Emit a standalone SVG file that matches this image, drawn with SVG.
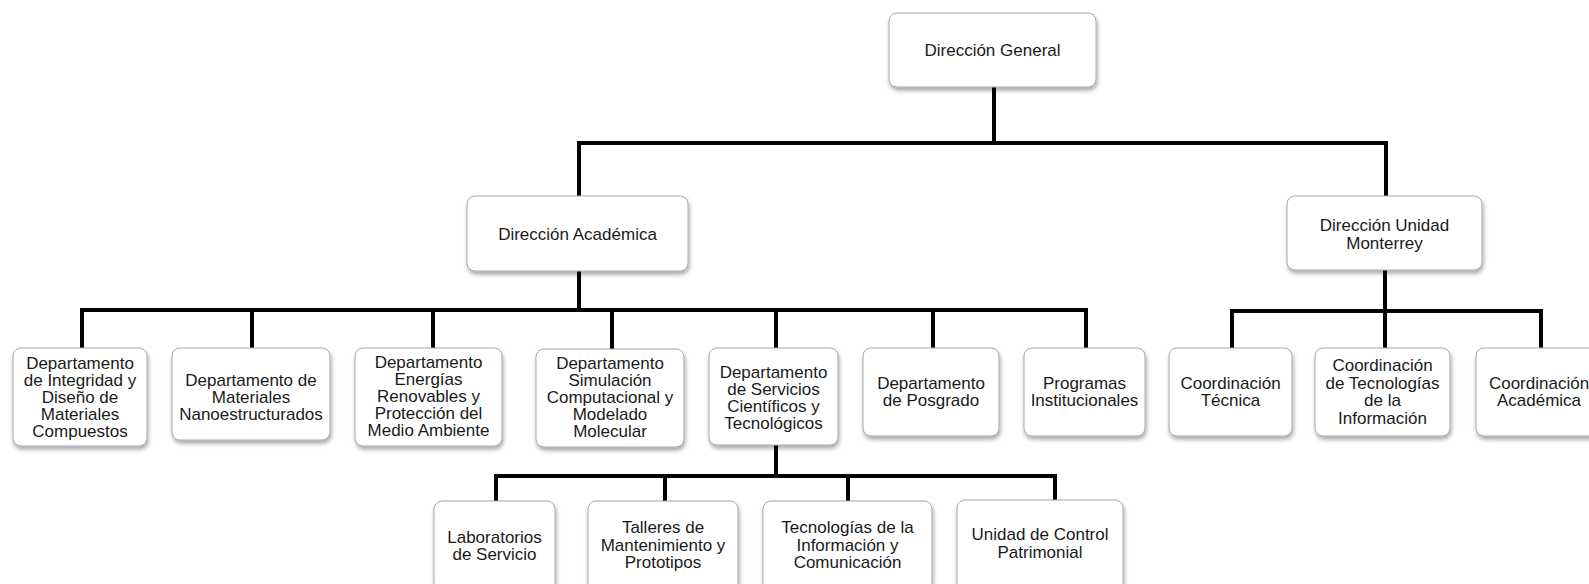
<svg xmlns="http://www.w3.org/2000/svg" width="1589" height="584" viewBox="0 0 1589 584">
<defs>
<filter id="sh" x="-10%" y="-10%" width="125%" height="130%">
<feDropShadow dx="1" dy="3" stdDeviation="2" flood-color="#000" flood-opacity="0.35"/>
</filter>
<style>
.box{fill:#fff;stroke:#a8a8a8;stroke-width:1;filter:url(#sh)}
.t{font-family:"Liberation Sans",Arial,sans-serif;font-size:17px;fill:#1a1a1a;text-anchor:middle}
.c{stroke:#000;stroke-width:4;fill:none;stroke-linecap:square}
</style>
</defs>
<rect width="1589" height="584" fill="#fff"/>
<g id="connectors">
<path class="c" d="M994 87V143M579 143H1386M579 143V196M1386 143V196"/>
<path class="c" d="M579 271V310M82 310H1086M82 310V348M252 310V348M433 310V348M612 310V348M776 310V348M933 310V348M1086 310V348"/>
<path class="c" d="M1385 270V348M1232 311H1541M1232 311V348M1541 311V348"/>
<path class="c" d="M776 445V476M496 476H1055M496 476V501M665 476V501M848 476V501M1055 476V501"/>
</g>
<g id="n-dg"><rect class="box" x="889" y="13" width="207" height="74" rx="8"/><text class="t" x="992.5" y="56">Dirección General</text></g>
<g id="n-da"><rect class="box" x="467" y="196" width="221" height="75" rx="8"/><text class="t" x="577.5" y="239.5">Dirección Académica</text></g>
<g id="n-dum"><rect class="box" x="1287" y="196" width="195" height="74" rx="8"/><text class="t" x="1384.5" y="231">Dirección Unidad</text><text class="t" x="1384.5" y="249">Monterrey</text></g>
<g id="n-d1"><rect class="box" x="13" y="348" width="134" height="98" rx="8"/><text class="t" x="80" y="369">Departamento</text><text class="t" x="80" y="386">de Integridad y</text><text class="t" x="80" y="403">Diseño de</text><text class="t" x="80" y="420">Materiales</text><text class="t" x="80" y="437">Compuestos</text></g>
<g id="n-d2"><rect class="box" x="172" y="348" width="158" height="92" rx="8"/><text class="t" x="251" y="386">Departamento de</text><text class="t" x="251" y="403">Materiales</text><text class="t" x="251" y="420">Nanoestructurados</text></g>
<g id="n-d3"><rect class="box" x="355" y="348" width="147" height="98" rx="8"/><text class="t" x="428.5" y="368">Departamento</text><text class="t" x="428.5" y="385">Energías</text><text class="t" x="428.5" y="402">Renovables y</text><text class="t" x="428.5" y="419">Protección del</text><text class="t" x="428.5" y="436">Medio Ambiente</text></g>
<g id="n-d4"><rect class="box" x="536" y="349" width="148" height="98" rx="8"/><text class="t" x="610" y="369">Departamento</text><text class="t" x="610" y="386">Simulación</text><text class="t" x="610" y="403">Computacional y</text><text class="t" x="610" y="420">Modelado</text><text class="t" x="610" y="437">Molecular</text></g>
<g id="n-d5"><rect class="box" x="709" y="348" width="129" height="97" rx="8"/><text class="t" x="773.5" y="378">Departamento</text><text class="t" x="773.5" y="395">de Servicios</text><text class="t" x="773.5" y="412">Científicos y</text><text class="t" x="773.5" y="429">Tecnológicos</text></g>
<g id="n-d6"><rect class="box" x="863" y="348" width="136" height="88" rx="8"/><text class="t" x="931" y="389">Departamento</text><text class="t" x="931" y="406">de Posgrado</text></g>
<g id="n-d7"><rect class="box" x="1024" y="348" width="121" height="88" rx="8"/><text class="t" x="1084.5" y="389">Programas</text><text class="t" x="1084.5" y="406">Institucionales</text></g>
<g id="n-c1"><rect class="box" x="1169" y="348" width="123" height="88" rx="8"/><text class="t" x="1230.5" y="389">Coordinación</text><text class="t" x="1230.5" y="406">Técnica</text></g>
<g id="n-c2"><rect class="box" x="1315" y="348" width="135" height="88" rx="8"/><text class="t" x="1382.5" y="371">Coordinación</text><text class="t" x="1382.5" y="389">de Tecnologías</text><text class="t" x="1382.5" y="406">de la</text><text class="t" x="1382.5" y="424">Información</text></g>
<g id="n-c3"><rect class="box" x="1476" y="348" width="130" height="88" rx="8"/><text class="t" x="1539" y="389">Coordinación</text><text class="t" x="1539" y="406">Académica</text></g>
<g id="n-s1"><rect class="box" x="434" y="501" width="121" height="90" rx="8"/><text class="t" x="494.5" y="543">Laboratorios</text><text class="t" x="494.5" y="560">de Servicio</text></g>
<g id="n-s2"><rect class="box" x="588" y="501" width="150" height="90" rx="8"/><text class="t" x="663" y="533">Talleres de</text><text class="t" x="663" y="551">Mantenimiento y</text><text class="t" x="663" y="568">Prototipos</text></g>
<g id="n-s3"><rect class="box" x="763" y="501" width="169" height="90" rx="8"/><text class="t" x="847.5" y="533">Tecnologías de la</text><text class="t" x="847.5" y="551">Información y</text><text class="t" x="847.5" y="568">Comunicación</text></g>
<g id="n-s4"><rect class="box" x="957" y="500" width="166" height="91" rx="8"/><text class="t" x="1040" y="540">Unidad de Control</text><text class="t" x="1040" y="558">Patrimonial</text></g>
</svg>
